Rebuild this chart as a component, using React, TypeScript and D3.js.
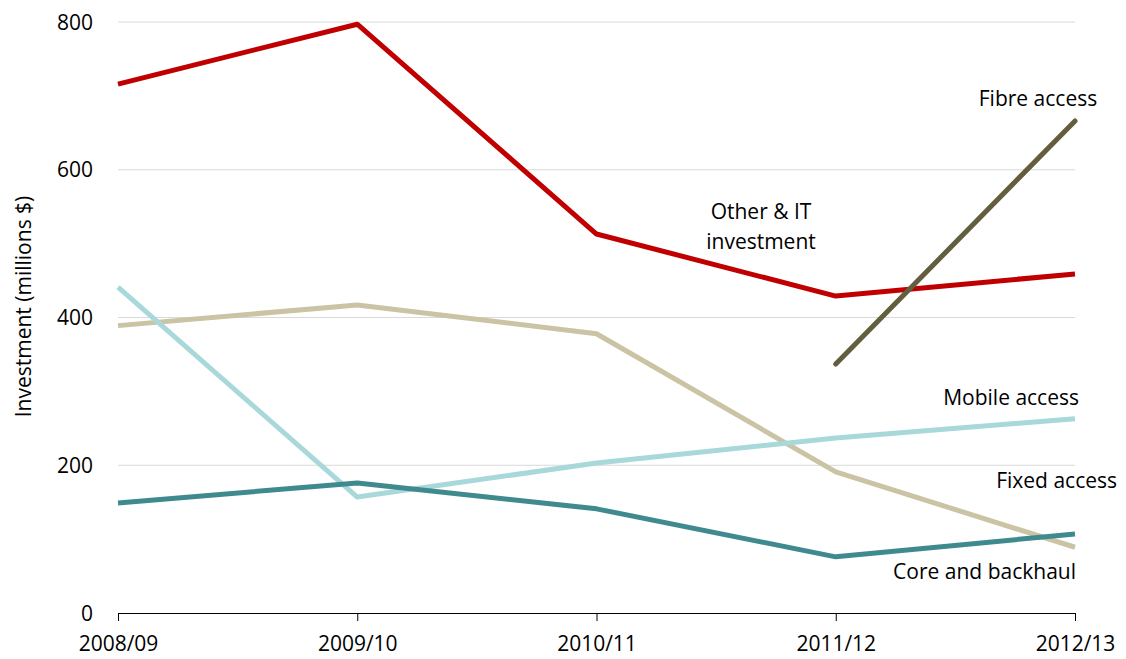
import React, { useEffect, useRef } from 'react';
import * as d3 from 'd3';

const years = ['2008/09', '2009/10', '2010/11', '2011/12', '2012/13'];
const yTicks = [0, 200, 400, 600, 800];

const otherIT = [716, 797, 513, 429, 459];
const fibre = [null, null, null, 337, 666];
const mobile = [441, 157, 203, 237, 263];
const fixed = [389, 417, 378, 191, 89];
const core = [149, 176, 141, 76, 107];

const series = [
  { name: 'Fixed access', values: fixed, color: '#CAC4A4', width: 5 },
  { name: 'Mobile access', values: mobile, color: '#A9D8DA', width: 5 },
  { name: 'Core and backhaul', values: core, color: '#3F8A8E', width: 5 },
  { name: 'Other & IT investment', values: otherIT, color: '#C00000', width: 5 },
  { name: 'Fibre access', values: fibre, color: '#625E3E', width: 5, round: true },
];

export default function App() {
  const svgRef = useRef<SVGSVGElement>(null);

  useEffect(() => {
    const svg = d3.select(svgRef.current);
    svg.selectAll('*').remove();

    const width = 1126;
    const height = 659;
    const margin = { top: 22, right: 51, bottom: 46, left: 118 };
    const font = "'Open Sans', sans-serif";
    const fs = 21;

    const x = d3.scalePoint()
      .domain(years)
      .range([margin.left, width - margin.right]);

    const y = d3.scaleLinear()
      .domain([0, 800])
      .range([height - margin.bottom, margin.top]);

    // gridlines
    svg.append('g')
      .selectAll('line')
      .data(yTicks.filter(d => d > 0))
      .join('line')
      .attr('x1', margin.left)
      .attr('x2', width - margin.right)
      .attr('y1', d => y(d))
      .attr('y2', d => y(d))
      .attr('stroke', '#d9d9d9')
      .attr('stroke-width', 1);

    // y tick labels
    svg.append('g')
      .selectAll('text')
      .data(yTicks)
      .join('text')
      .attr('x', 93)
      .attr('y', d => y(d) + 7.5)
      .attr('text-anchor', 'end')
      .attr('font-family', font)
      .attr('font-size', fs)
      .attr('fill', '#000')
      .text(d => d);

    // x axis
    svg.append('g')
      .attr('transform', `translate(0,${y(0)})`)
      .call(d3.axisBottom(x).tickSize(8).tickPadding(15))
      .call(g => g.select('.domain').attr('stroke', '#000').attr('d', `M${margin.left + 0.5},8V0.5H${width - margin.right + 0.5}V8`))
      .call(g => g.selectAll('.tick line').attr('stroke', '#000'))
      .selectAll('text')
      .attr('font-family', font)
      .attr('font-size', fs)
      .attr('fill', '#000');

    // y axis title
    svg.append('text')
      .attr('transform', `translate(31,${(y(0) + y(800)) / 2 - 11}) rotate(-90)`)
      .attr('text-anchor', 'middle')
      .attr('font-family', font)
      .attr('font-size', fs)
      .attr('fill', '#000')
      .text('Investment (millions $)');

    const line = d3.line<number | null>()
      .defined(d => d != null)
      .x((d, i) => x(years[i]) as number)
      .y(d => y(d as number));

    svg.append('g')
      .selectAll('path')
      .data(series)
      .join('path')
      .attr('fill', 'none')
      .attr('stroke', d => d.color)
      .attr('stroke-width', d => d.width)
      .attr('stroke-linejoin', 'round')
      .attr('stroke-linecap', d => (d.round ? 'round' : 'butt'))
      .attr('d', d => line(d.values));

    // series labels
    const labels = [
      { lines: ['Fibre access'], x: 1038, y: 106, anchor: 'middle' },
      { lines: ['Other & IT', 'investment'], x: 761, y: 219, anchor: 'middle' },
      { lines: ['Mobile access'], x: 1079, y: 405, anchor: 'end' },
      { lines: ['Fixed access'], x: 1117, y: 488, anchor: 'end' },
      { lines: ['Core and backhaul'], x: 1076, y: 579, anchor: 'end' },
    ];

    labels.forEach(l => {
      const t = svg.append('text')
        .attr('x', l.x)
        .attr('y', l.y)
        .attr('text-anchor', l.anchor)
        .attr('font-family', font)
        .attr('font-size', fs)
        .attr('fill', '#000');
      l.lines.forEach((s, i) => {
        t.append('tspan').attr('x', l.x).attr('dy', i === 0 ? 0 : 30).text(s);
      });
    });
  }, []);

  return <svg ref={svgRef} width={1126} height={659} style={{ display: 'block', margin: -8 }} />;
}
